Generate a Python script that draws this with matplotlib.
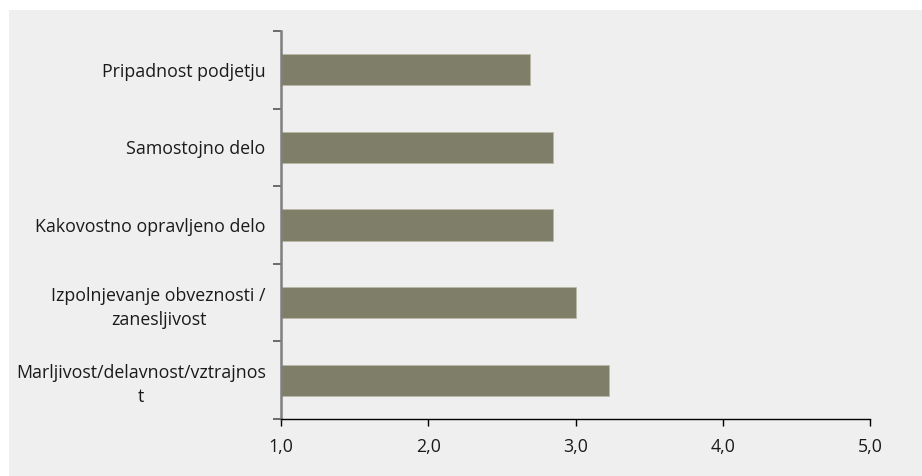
import matplotlib
matplotlib.use("Agg")
import matplotlib.pyplot as plt
from matplotlib.patches import Rectangle
import numpy as np

categories = [
    "Marljivost/delavnost/vztrajnos\nt",
    "Izpolnjevanje obveznosti /\nzanesljivost",
    "Kakovostno opravljeno delo",
    "Samostojno delo",
    "Pripadnost podjetju",
]
values = [3.23, 3.00, 2.85, 2.85, 2.69]
x_ticks = [1.0, 2.0, 3.0, 4.0, 5.0]
x_labels = ["1,0", "2,0", "3,0", "4,0", "5,0"]

plt.rcParams["font.family"] = ["Open Sans", "DejaVu Sans"]

W, H = 922, 476
fig = plt.figure(figsize=(W / 100, H / 100), dpi=100, facecolor="white")
fig.patches.append(Rectangle((9 / W, 0), 1 - 9 / W, 1 - 10 / H,
                             transform=fig.transFigure, facecolor="#efefef",
                             edgecolor="none", zorder=-10))

ax = fig.add_axes([281 / W, 57 / H, (870 - 281) / W, (419 - 31) / H])
ax.set_facecolor("none")

y = np.arange(len(categories))
ax.barh(y, [v - 1.0 for v in values], left=1.0, height=0.4,
        color="#7f7e68", edgecolor="#b9b8a8", linewidth=0.6)

ax.set_xlim(1.0, 5.0)
ax.set_ylim(-0.5, len(categories) - 0.5)
ax.set_xticks(x_ticks)
ax.set_xticklabels(x_labels, fontsize=12.8, color="#1a1a1a")
ax.set_yticks(y)
ax.set_yticklabels(categories, fontsize=12.8, color="#1a1a1a",
                   ha="right", multialignment="center", linespacing=1.45)
ax.tick_params(axis="y", which="major", length=0, pad=11)
ax.set_yticks(np.arange(-0.5, len(categories)), minor=True)
ax.tick_params(axis="y", which="minor", length=6, width=1.2, color="#555555")
ax.tick_params(axis="x", length=5, width=1, color="black", pad=9)

for s in ["top", "right"]:
    ax.spines[s].set_visible(False)
ax.spines["left"].set_color("#7f7f7f")
ax.spines["left"].set_linewidth(1.8)
ax.spines["bottom"].set_color("black")
ax.spines["bottom"].set_linewidth(1.0)

fig.savefig("out.png", dpi=100, facecolor="white")
